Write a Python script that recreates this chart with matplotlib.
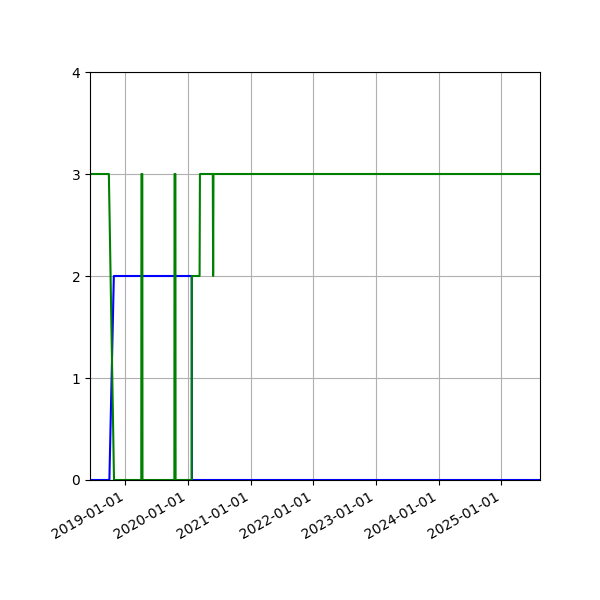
import numpy as np
import pandas as pd
import matplotlib
matplotlib.use("Agg")
import matplotlib.pyplot as plt
import matplotlib.dates as mdates

# blue series
blue_dates = pd.to_datetime(["2018-06-08", "2018-09-29", "2018-10-25",
                             "2020-01-22", "2020-01-23", "2025-08-14"])
blue_vals = [0, 0, 2, 2, 0, 0]

# green series
green_dates = pd.to_datetime(["2018-06-08", "2018-09-26", "2018-10-26",
                              "2019-04-03", "2019-04-04", "2019-04-09", "2019-04-10",
                              "2019-10-13", "2019-10-14", "2019-10-19", "2019-10-20",
                              "2020-01-22", "2020-01-23", "2020-03-08", "2020-03-10",
                              "2020-05-24", "2020-05-26", "2020-05-28", "2025-08-14"])
green_vals = [3, 3, 0,
              0, 3, 3, 0,
              0, 3, 3, 0,
              0, 2, 2, 3,
              3, 2, 3, 3]

fig, ax = plt.subplots(figsize=(6, 6), dpi=100)
ax.plot(blue_dates, blue_vals, color="blue", linewidth=1.5)
ax.plot(green_dates, green_vals, color="green", linewidth=1.5)

ax.set_ylim(0, 4)
ax.set_yticks([0, 1, 2, 3, 4])
ax.set_xlim(pd.Timestamp("2018-06-08"), pd.Timestamp("2025-08-14"))
ax.xaxis.set_major_locator(mdates.YearLocator())
ax.xaxis.set_major_formatter(mdates.DateFormatter("%Y-%m-%d"))
ax.grid(True)
fig.autofmt_xdate()
fig.subplots_adjust(left=0.15, right=0.9, top=0.88, bottom=0.2)

fig.savefig("out.png", dpi=100)
